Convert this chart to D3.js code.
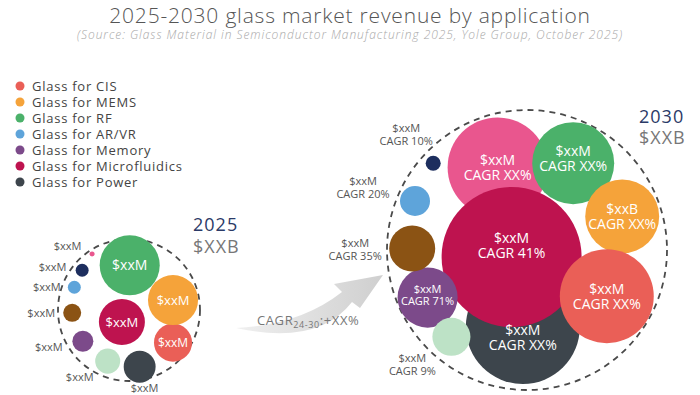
<!DOCTYPE html>
<html>
<head>
<meta charset="utf-8">
<script src="https://d3js.org/d3.v7.min.js"></script>
<style>
  body { margin: 0; background: #fff; }
  svg text { font-family: "Open Sans", "DejaVu Sans", sans-serif; }
</style>
</head>
<body>
<div id="chart"></div>
<script>
// ---- data ----
var groups = ["CIS", "MEMS", "RF", "AR/VR", "Memory", "Microfluidics", "Power", "Pink", "Navy", "Brown", "Pale green"];
var legendGroups = ["CIS", "MEMS", "RF", "AR/VR", "Memory", "Microfluidics", "Power"];
var colors = ["#ea5f57", "#f5a33a", "#4bb16a", "#5ea4da", "#7c4a8a", "#be134f", "#3d454c", "#e9568e", "#1d2e5e", "#8b5314", "#bde2c6"];
// relative market size (area-proportional)
var size2025 = [7.4, 12.8, 18.4, 0.86, 2.25, 10.8, 5.2, 0.13, 0.86, 1.65, 3.2];
var size2030 = [45, 27.9, 34.3, 4.6, 18.4, 100, 66.3, 51, 1.15, 10.8, 7.4];
var revenue2025 = ["$xxM", "$xxM", "$xxM", "$xxM", "$xxM", "$xxM", "$xxM", "$xxM", "$xxM", "$xxM", "$xxM"];
var revenue2030 = ["$xxM", "$xxB", "$xxM", "$xxM", "$xxM", "$xxM", "$xxM", "$xxM", "$xxM", "$xxM", "$xxM"];
var cagr2030 = ["CAGR XX%", "CAGR XX%", "CAGR XX%", "CAGR 20%", "CAGR 71%", "CAGR 41%", "CAGR XX%", "CAGR XX%", "CAGR 10%", "CAGR 35%", "CAGR 9%"];

// ---- layout (bubble placement inside each cluster, in cluster-radius units) ----
var place2025 = [[0.62, 0.46], [0.62, -0.14], [0.01, -0.63], [-0.77, -0.32], [-0.65, 0.44], [-0.10, 0.17], [0.15, 0.80], [-0.52, -0.79], [-0.66, -0.56], [-0.80, 0.04], [-0.30, 0.72]];
var place2030 = [[0.57, 0.33], [0.68, -0.24], [0.33, -0.62], [-0.80, -0.35], [-0.71, 0.34], [-0.11, 0.05], [-0.03, 0.55], [-0.21, -0.59], [-0.67, -0.62], [-0.82, -0.01], [-0.54, 0.62]];
// outside label offsets (px) for the small bubbles
var out2025 = { "AR/VR": [-27.5, 4], "Memory": [-34, 10], "Power": [5, 25], "Pink": [-24.5, -4], "Navy": [-29.5, 1], "Brown": [-31, 4], "Pale green": [-28, 20] };
var out2030 = { "AR/VR": [-52, -16], "Navy": [-27, -31], "Brown": [-57, -2], "Pale green": [-39, 25] };
var inDy2030 = { "Microfluidics": -12, "Power": 10, "RF": -5, "Memory": -3 };
var order2030 = ["Power", "Pink", "Microfluidics", "RF", "MEMS", "CIS", "Memory", "Pale green", "Brown", "AR/VR", "Navy"];

var width = 700, height = 395;

var svg = d3.select("#chart").append("svg")
    .attr("width", width)
    .attr("height", height);

var color = d3.scaleOrdinal().domain(groups).range(colors);
var radius = d3.scaleSqrt().domain([0, 100]).range([0, 70]);

// title
svg.append("text")
    .attr("x", 350).attr("y", 23)
    .attr("text-anchor", "middle")
    .style("font-size", "21px").style("font-weight", 300)
    .style("letter-spacing", "0.8px")
    .style("fill", "#555")
    .text("2025-2030 glass market revenue by application");
svg.append("text")
    .attr("x", 350).attr("y", 39)
    .attr("text-anchor", "middle")
    .style("font-size", "12px").style("font-style", "italic").style("font-weight", 300)
    .style("letter-spacing", "0.95px")
    .style("fill", "#a8a8a8")
    .text("(Source: Glass Material in Semiconductor Manufacturing 2025, Yole Group, October 2025)");

// legend
var legend = svg.append("g").attr("transform", "translate(20,86)");
var li = legend.selectAll("g").data(legendGroups).enter().append("g")
    .attr("transform", function (d, i) { return "translate(0," + i * 16 + ")"; });
li.append("circle").attr("r", 4.5).attr("fill", function (d) { return color(d); });
li.append("text").attr("x", 12).attr("dy", "0.35em")
    .style("font-size", "13px").style("fill", "#444")
    .style("letter-spacing", "0.75px")
    .text(function (d) { return "Glass for " + d; });

// arrow between the clusters
var grad = svg.append("defs").append("linearGradient").attr("id", "arrowGrad")
    .attr("x1", "0%").attr("x2", "100%");
grad.append("stop").attr("offset", "0%").attr("stop-color", "#f0f0f0");
grad.append("stop").attr("offset", "100%").attr("stop-color", "#cfcfcf");
var ap = d3.path();
ap.moveTo(236, 328);
ap.quadraticCurveTo(300, 325, 342, 292);
ap.lineTo(334, 284);
ap.lineTo(383, 275);
ap.lineTo(360, 308);
ap.lineTo(352, 302);
ap.quadraticCurveTo(318, 346, 236, 328);
ap.closePath();
svg.append("path").attr("d", ap.toString()).attr("fill", "url(#arrowGrad)");

var cg = svg.append("text").attr("x", 257).attr("y", 325)
    .style("font-size", "13px").style("fill", "#777")
    .style("letter-spacing", "0.6px");
cg.append("tspan").text("CAGR");
cg.append("tspan").attr("dy", 3).style("font-size", "9px").text("24-30");
cg.append("tspan").attr("dy", -3).text(":+XX%");

function cluster(cfg) {
    var x = d3.scaleLinear().domain([-1, 1]).range([cfg.cx - cfg.R, cfg.cx + cfg.R]);
    var y = d3.scaleLinear().domain([-1, 1]).range([cfg.cy - cfg.R, cfg.cy + cfg.R]);
    var g = svg.append("g");

    var nodes = groups.map(function (d, i) {
        return { name: d, size: cfg.size[i], rev: cfg.rev[i], cagr: cfg.cagr ? cfg.cagr[i] : null,
                 x: x(cfg.place[i][0]), y: y(cfg.place[i][1]), r: radius(cfg.size[i]) };
    });
    nodes.sort(function (a, b) { return cfg.order.indexOf(a.name) - cfg.order.indexOf(b.name); });

    g.append("circle")
        .attr("cx", cfg.cx).attr("cy", cfg.cy).attr("r", cfg.R)
        .attr("fill", "none").attr("stroke", "#4a4a4a")
        .attr("stroke-width", 1.8).attr("stroke-dasharray", "6,5");

    g.selectAll("circle.bubble").data(nodes).enter().append("circle")
        .attr("class", "bubble")
        .attr("cx", function (d) { return d.x; })
        .attr("cy", function (d) { return d.y; })
        .attr("r", function (d) { return d.r; })
        .attr("fill", function (d) { return color(d.name); });

    nodes.forEach(function (d) {
        var lines = d.cagr ? [d.rev, d.cagr] : [d.rev];
        var off = cfg.outside[d.name];
        if (off) {
            var t = g.append("text")
                .attr("text-anchor", "middle")
                .style("font-size", "11px").style("fill", "#555");
            lines.forEach(function (l, k) {
                t.append("tspan").attr("x", d.x + off[0]).attr("y", d.y + off[1] + k * 13).text(l);
            });
        } else {
            var fs = cfg.fontSize(d);
            var lh = fs + 1;
            var dy = (cfg.inDy && cfg.inDy[d.name]) || 0;
            var top = d.y + dy - (lines.length - 1) * lh / 2 + fs * 0.36;
            var t2 = g.append("text")
                .attr("text-anchor", "middle")
                .style("font-size", fs + "px").style("fill", "#fff");
            lines.forEach(function (l, k) {
                t2.append("tspan").attr("x", d.x).attr("y", top + k * lh).text(l);
            });
        }
    });

    g.append("text").attr("x", cfg.lx).attr("y", cfg.ly)
        .style("font-size", "18px").style("letter-spacing", "1px")
        .style("fill", "#2b3a67").text(cfg.year);
    g.append("text").attr("x", cfg.lx).attr("y", cfg.ly + cfg.lgap)
        .style("font-size", "18px").style("letter-spacing", "1px")
        .style("fill", "#777").text("$XXB");
}

cluster({
    cx: 129, cy: 310, R: 71, size: size2025, rev: revenue2025, cagr: null,
    place: place2025, outside: out2025, order: groups,
    fontSize: function (d) { return d.r > 28 ? 14 : (d.r > 21 ? 13 : 12); },
    year: "2025", lx: 193, ly: 231, lgap: 22
});

cluster({
    cx: 527, cy: 250, R: 140, size: size2030, rev: revenue2030, cagr: cagr2030,
    place: place2030, outside: out2030, order: order2030, inDy: inDy2030,
    fontSize: function (d) { return d.r > 32 ? 14 : 11; },
    year: "2030", lx: 639, ly: 123, lgap: 21
});
</script>
</body>
</html>
